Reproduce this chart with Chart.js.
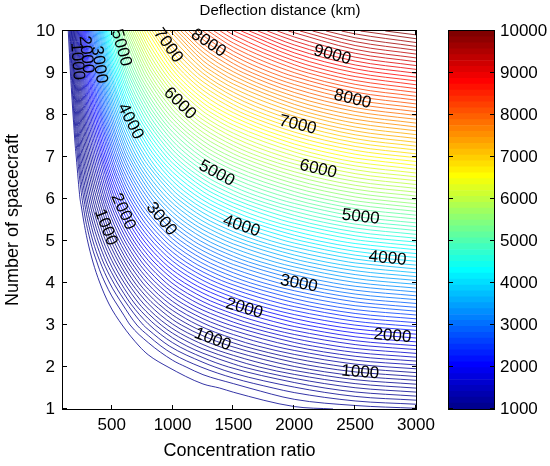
<!DOCTYPE html>
<html lang="en">
<head>
<meta charset="UTF-8">
<title>Deflection distance (km)</title>
<script src="https://cdn.jsdelivr.net/npm/chart.js@4"></script>
<style>
  html, body { margin: 0; padding: 0; background: #fff; overflow: hidden; }
  #wrap { position: relative; width: 550px; height: 466px; overflow: hidden; }
  #contourChart { position: absolute; left: 0; top: 0; }
  #colorBar { position: absolute; left: 440px; top: 0; }
</style>
</head>
<body>
<div id="wrap">
  <canvas id="contourChart" width="560" height="466"></canvas>
  <canvas id="colorBar" width="110" height="466"></canvas>
</div>
<script>
  // grid columns: concentration ratio
  const concRatio = [100, 125, 150, 175, 200, 250, 300, 350, 400, 500, 600, 800, 1000, 1250, 1500, 2000, 2500, 3000];
  // grid rows: number of spacecraft
  const spacecraft = [1, 1.5, 2, 2.5, 3, 3.5, 4, 4.5, 5, 5.5, 6, 7, 8, 9, 10];
  // deflection distance in km, one row per entry of spacecraft
  const deflection = [
    [0, 0, 0, 0, 0, 0, 0, 0, 0, 16, 19, 23, 24, 30, 39, 64, 122, 182],
    [0, 0, 0, 0, 0, 0, 0, 0, 0, 19, 25, 33, 42, 72, 139, 382, 593, 703],
    [0, 0, 0, 0, 0, 0, 0, 0, 10, 25, 34, 59, 120, 314, 533, 887, 1126, 1246],
    [0, 0, 0, 0, 0, 0, 0, 0, 16, 35, 55, 162, 437, 767, 1026, 1411, 1664, 1792],
    [0, 0, 0, 0, 0, 0, 0, 12, 23, 58, 118, 478, 880, 1253, 1531, 1938, 2203, 2339],
    [0, 0, 0, 0, 0, 0, 8, 18, 38, 131, 333, 892, 1342, 1745, 2040, 2466, 2744, 2886],
    [0, 0, 0, 0, 0, 0, 13, 35, 94, 350, 685, 1326, 1810, 2239, 2551, 2995, 3284, 3433],
    [0, 0, 0, 0, 0, 7, 25, 111, 281, 673, 1072, 1765, 2279, 2735, 3062, 3524, 3824, 3980],
    [0, 0, 0, 0, 0, 11, 93, 321, 554, 1023, 1468, 2206, 2750, 3231, 3573, 4053, 4365, 4527],
    [0, 0, 0, 0, 4, 31, 286, 575, 844, 1380, 1868, 2649, 3221, 3728, 4085, 4583, 4906, 5074],
    [0, 0, 0, 0, 5, 149, 513, 837, 1139, 1740, 2270, 3092, 3693, 4224, 4597, 5112, 5447, 5622],
    [0, 0, 0, 4, 43, 534, 977, 1368, 1734, 2465, 3076, 3980, 4636, 5218, 5621, 6172, 6528, 6717],
    [0, 0, 2, 36, 345, 931, 1445, 1901, 2332, 3192, 3883, 4868, 5580, 6213, 6645, 7231, 7610, 7811],
    [0, 0, 9, 304, 683, 1330, 1914, 2435, 2930, 3921, 4692, 5757, 6524, 7207, 7670, 8291, 8692, 8906],
    [0, 2, 178, 602, 1022, 1730, 2384, 2969, 3530, 4649, 5501, 6646, 7469, 8202, 8695, 9351, 9774, 10001]
  ];

  // inline contour labels: [level, concentration ratio, spacecraft]
  const labelSpots = [
    [1000, 2542, 1.86], [2000, 2805, 2.70], [3000, 2033, 3.91], [4000, 2764, 4.50], [5000, 2542, 5.50],
    [6000, 2189, 6.62], [7000, 2025, 7.72], [8000, 2477, 8.36], [9000, 2312, 9.43],
    [1000, 1335, 2.70], [2000, 1581, 3.31], [4000, 1556, 5.27], [5000, 1351, 6.55], [6000, 1047, 8.24],
    [7000, 975, 9.68], [8000, 1294, 9.71],
    [1000, 464, 5.34], [2000, 587, 5.69], [3000, 899, 5.50], [4000, 628, 7.81], [5000, 571, 9.59],
    [3000, 406, 9.20], [2000, 297, 9.44], [1000, 219, 9.28]
  ];

  const xTicks = [500, 1000, 1500, 2000, 2500, 3000];
  const yTicks = [1, 2, 3, 4, 5, 6, 7, 8, 9, 10];
  const barTicks = [1000, 2000, 3000, 4000, 5000, 6000, 7000, 8000, 9000, 10000];
  const barMin = 1000, barMax = 10000, barSteps = 64;
  const xMin = 100, xMax = 3000, yMin = 1, yMax = 10;

  const FONT = '"Liberation Sans", Arial, Helvetica, sans-serif';

  // contour every 100 km
  const levels = [];
  for (let v = 100; v < 10000; v += 100) levels.push(v);

  // matlab style jet(64)
  function jet(i) {
    const k = i + 1;
    const r = k < 25 ? 0 : k <= 40 ? (k - 24) / 16 : k <= 55 ? 1 : (72 - k) / 16;
    const g = k < 9 ? 0 : k <= 24 ? (k - 8) / 16 : k <= 39 ? 1 : k <= 55 ? (56 - k) / 16 : 0;
    const b = k <= 8 ? (k + 8) / 16 : k <= 23 ? 1 : k <= 39 ? (40 - k) / 16 : 0;
    return `rgb(${Math.round(r * 255)},${Math.round(g * 255)},${Math.round(b * 255)})`;
  }

  function levelColor(level) {
    let i = Math.floor((level - barMin) / (barMax - barMin) * barSteps);
    i = Math.max(0, Math.min(barSteps - 1, i));
    return jet(i);
  }

  // Fritsch-Carlson slopes for a monotone cubic through (xs, ys)
  function monoSlopes(xs, ys) {
    const n = xs.length, d = [], m = new Array(n);
    for (let i = 0; i < n - 1; i++) d.push((ys[i + 1] - ys[i]) / (xs[i + 1] - xs[i]));
    m[0] = d[0];
    m[n - 1] = d[n - 2];
    for (let i = 1; i < n - 1; i++) m[i] = d[i - 1] * d[i] <= 0 ? 0 : (d[i - 1] + d[i]) / 2;
    for (let i = 0; i < n - 1; i++) {
      if (d[i] === 0) { m[i] = 0; m[i + 1] = 0; continue; }
      const a = m[i] / d[i], b = m[i + 1] / d[i], s = a * a + b * b;
      if (s > 9) { const t = 3 / Math.sqrt(s); m[i] = t * a * d[i]; m[i + 1] = t * b * d[i]; }
    }
    return m;
  }

  function hermite(xs, ys, m, i, t) {
    const h = xs[i + 1] - xs[i], t2 = t * t, t3 = t2 * t;
    return (2 * t3 - 3 * t2 + 1) * ys[i] + (t3 - 2 * t2 + t) * h * m[i] +
           (-2 * t3 + 3 * t2) * ys[i + 1] + (t3 - t2) * h * m[i + 1];
  }

  // positions along one grid line where the curve rises through level
  function crossings(line, level) {
    const { xs, ys, m } = line, out = [];
    for (let i = 0; i < xs.length - 1; i++) {
      if (!(ys[i] < level && ys[i + 1] >= level)) continue;
      let lo = 0, hi = 1;
      for (let k = 0; k < 40; k++) {
        const mid = (lo + hi) / 2;
        if (hermite(xs, ys, m, i, mid) < level) lo = mid; else hi = mid;
      }
      out.push(xs[i] + (lo + hi) / 2 * (xs[i + 1] - xs[i]));
    }
    return out;
  }

  // columns are interpolated in spacecraft, rows in -1/concentration ratio
  const columnLines = concRatio.map((c, j) => {
    const ys = deflection.map(row => row[j]);
    return { c, xs: spacecraft, ys, m: monoSlopes(spacecraft, ys) };
  });
  const rowLines = spacecraft.map((n, i) => {
    const xs = concRatio.map(c => -1 / c);
    return { n, xs, ys: deflection[i], m: monoSlopes(xs, deflection[i]) };
  });

  function tracePoints(level) {
    const pts = [];
    columnLines.forEach(col => crossings(col, level).forEach(n => pts.push({ x: col.c, y: n })));
    rowLines.forEach(row => crossings(row, level).forEach(u => pts.push({ x: -1 / u, y: row.n })));
    pts.sort((p, q) => p.x - q.x || q.y - p.y);
    // thin out crossings that sit almost on top of each other
    const gap = (p, q) => Math.hypot((p.x - q.x) / (xMax - xMin), (p.y - q.y) / (yMax - yMin));
    const kept = [];
    pts.forEach((p, k) => {
      const last = kept[kept.length - 1];
      if (!last || gap(p, last) > 0.018) kept.push(p);
      else if (k === pts.length - 1 && kept.length > 1) kept[kept.length - 1] = p;
    });
    return kept;
  }

  // box around the plot area with inward tick marks
  const frame = {
    id: 'frame',
    afterDraw(chart, args, opts) {
      const { ctx, chartArea: a } = chart;
      const len = 4;
      ctx.save();
      ctx.strokeStyle = '#000';
      ctx.lineWidth = 1;
      ctx.strokeRect(a.left - 0.5, a.top - 0.5, a.right - a.left + 1, a.bottom - a.top + 1);
      ctx.beginPath();
      if (opts.x) {
        const sx = chart.scales.x;
        opts.x.forEach(v => {
          const px = Math.round(sx.getPixelForValue(v)) - 0.5;
          ctx.moveTo(px, a.bottom); ctx.lineTo(px, a.bottom - len);
          ctx.moveTo(px, a.top); ctx.lineTo(px, a.top + len);
        });
      }
      if (opts.y) {
        const sy = chart.scales.y;
        opts.y.forEach(v => {
          const py = Math.round(sy.getPixelForValue(v)) - 0.5;
          ctx.moveTo(a.left, py); ctx.lineTo(a.left + len, py);
          ctx.moveTo(a.right, py); ctx.lineTo(a.right - len, py);
        });
      }
      ctx.stroke();
      ctx.restore();
    }
  };

  function nearestOnLine(pts, px, py) {
    let best = { d: Infinity };
    for (let k = 0; k < pts.length - 1; k++) {
      const [x1, y1] = pts[k], [x2, y2] = pts[k + 1];
      const dx = x2 - x1, dy = y2 - y1;
      const len2 = dx * dx + dy * dy || 1;
      const t = Math.max(0, Math.min(1, ((px - x1) * dx + (py - y1) * dy) / len2));
      const qx = x1 + t * dx, qy = y1 + t * dy;
      const d = (qx - px) ** 2 + (qy - py) ** 2;
      if (d < best.d) best = { d, x: qx, y: qy, angle: Math.atan2(dy, dx) };
    }
    return best;
  }

  const contourLabels = {
    id: 'contourLabels',
    afterDatasetsDraw(chart) {
      const { ctx, scales: { x, y } } = chart;
      ctx.save();
      ctx.font = `17px ${FONT}`;
      ctx.fillStyle = '#000';
      ctx.textAlign = 'center';
      ctx.textBaseline = 'middle';
      labelSpots.forEach(([level, c, n]) => {
        const ds = chart.data.datasets.find(d => d.level === level);
        const pts = ds.data.map(p => [x.getPixelForValue(p.x), y.getPixelForValue(p.y)]);
        const spot = nearestOnLine(pts, x.getPixelForValue(c), y.getPixelForValue(n));
        ctx.save();
        ctx.translate(spot.x, spot.y);
        ctx.rotate(spot.angle);
        ctx.fillText(String(level), 0, 0);
        ctx.restore();
      });
      ctx.restore();
    }
  };

  const tickFont = { family: FONT, size: 17 };
  const labelFont = { family: FONT, size: 18 };
  const plain = v => String(v);

  new Chart(document.getElementById('contourChart'), {
    type: 'scatter',
    data: {
      datasets: levels.map(level => ({
        level,
        data: tracePoints(level),
        showLine: true,
        borderColor: levelColor(level),
        borderWidth: 0.8,
        pointRadius: 0,
        cubicInterpolationMode: 'monotone',
        fill: false
      }))
    },
    options: {
      responsive: false,
      animation: false,
      events: [],
      layout: { padding: 0 },
      plugins: {
        legend: { display: false },
        tooltip: { enabled: false },
        title: {
          display: true,
          text: 'Deflection distance (km)',
          color: '#000',
          font: { family: FONT, size: 15, weight: 'normal' },
          padding: { top: 2, bottom: 11 }
        },
        frame: { x: xTicks, y: yTicks }
      },
      scales: {
        x: {
          type: 'linear',
          min: xMin,
          max: xMax,
          afterBuildTicks: s => { s.ticks = xTicks.map(v => ({ value: v })); },
          afterFit: s => { s.height = 57; },
          grid: { display: false, drawTicks: false },
          border: { display: false },
          ticks: { color: '#000', font: tickFont, padding: 6, maxRotation: 0, autoSkip: false, callback: plain },
          title: {
            display: true,
            text: 'Concentration ratio',
            color: '#000',
            font: labelFont,
            padding: { top: 0, bottom: 4 }
          }
        },
        y: {
          type: 'linear',
          min: yMin,
          max: yMax,
          afterBuildTicks: s => { s.ticks = yTicks.map(v => ({ value: v })); },
          afterFit: s => { s.width = 63; },
          grid: { display: false, drawTicks: false },
          border: { display: false },
          ticks: { color: '#000', font: tickFont, padding: 8, autoSkip: false, callback: plain },
          title: {
            display: true,
            text: 'Number of spacecraft',
            color: '#000',
            font: labelFont,
            padding: { top: 2, bottom: 0 }
          }
        },
        // empty space for the colour bar on the right
        yRight: {
          type: 'linear',
          position: 'right',
          display: true,
          afterFit: s => { s.width = 144; },
          grid: { display: false, drawTicks: false },
          border: { display: false },
          ticks: { display: false }
        }
      }
    },
    plugins: [frame, contourLabels]
  });

  const barStep = (barMax - barMin) / barSteps;
  new Chart(document.getElementById('colorBar'), {
    type: 'bar',
    data: {
      labels: [''],
      datasets: Array.from({ length: barSteps }, (_, i) => ({
        data: [[barMin + i * barStep, barMin + (i + 1) * barStep]],
        backgroundColor: jet(i),
        borderWidth: 0,
        barPercentage: 1,
        categoryPercentage: 1,
        grouped: false
      }))
    },
    options: {
      responsive: false,
      animation: false,
      events: [],
      layout: { padding: { left: 9, top: 31, bottom: 57, right: 0 } },
      plugins: {
        legend: { display: false },
        tooltip: { enabled: false },
        frame: { y: barTicks }
      },
      scales: {
        x: { display: false },
        y: {
          position: 'right',
          min: barMin,
          max: barMax,
          afterBuildTicks: s => { s.ticks = barTicks.map(v => ({ value: v })); },
          afterFit: s => { s.width = 56; },
          grid: { display: false, drawTicks: false },
          border: { display: false },
          ticks: { color: '#000', font: tickFont, padding: 6, autoSkip: false, callback: plain }
        }
      }
    },
    plugins: [frame]
  });
</script>
</body>
</html>
